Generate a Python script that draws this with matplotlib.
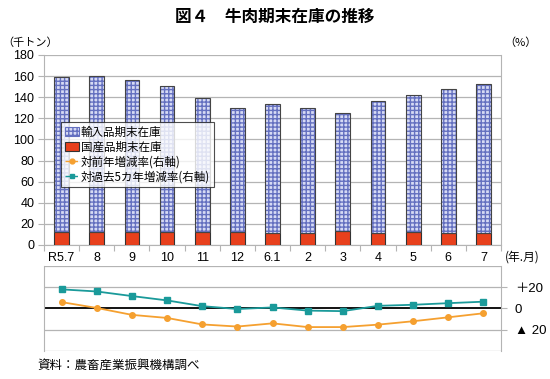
import matplotlib
matplotlib.use('Agg')
import matplotlib.pyplot as plt
import numpy as np
from matplotlib.patches import Patch
from matplotlib.lines import Line2D

plt.rcParams['font.family'] = ['Liberation Sans', 'Noto Sans CJK JP', 'DejaVu Sans']

# data
months = ['R5.7', '8', '9', '10', '11', '12', '6.1', '2', '3', '4', '5', '6', '7']
total_stock = [159, 160, 156, 151, 139, 130, 134, 129.5, 124.7, 136.4, 141.8, 147.8, 152.8]
domestic = [12.3, 12, 12.6, 12.6, 12.3, 12.3, 11.4, 11.4, 13, 11.7, 12, 11.7, 11]
imported = [t - d for t, d in zip(total_stock, domestic)]
yoy = [6, 0.5, -6, -8.9, -15, -17, -14, -17.5, -17.5, -15.2, -12, -8.3, -4.5]
vs5y = [18, 16, 11.7, 7.6, 2.2, -0.5, 1, -2, -2.5, 2.5, 3.5, 5, 6.4]

x = np.arange(len(months))
grid_c = '#b4b4b4'
jp = ['Noto Sans CJK JP', 'DejaVu Sans']

fig = plt.figure(figsize=(5.5, 3.79), dpi=100)
ax = fig.add_axes([0.08, 0.3536, 0.831, 0.5013])
ax2 = fig.add_axes([0.08, 0.0739, 0.831, 0.2243])

# top: stacked bars
w = 0.42
ax.bar(x, domestic, w, color='#e8401c', edgecolor='#333333', linewidth=0.8, zorder=3)
ax.bar(x, imported, w, bottom=domestic, color='#d6daf4', edgecolor='#6470c0', hatch='++++',
       linewidth=0, zorder=3)
ax.bar(x, imported, w, bottom=domestic, color='none', edgecolor='#444444', linewidth=0.8, zorder=4)

ax.set_xlim(-0.5, len(months) - 0.5)
ax.set_ylim(0, 180)
ax.set_yticks(range(0, 181, 20))
ax.yaxis.grid(True, color=grid_c, linewidth=0.9, zorder=0)
ax.set_axisbelow(True)
ax.spines['top'].set_visible(False)
for s in ['left', 'right', 'bottom']:
    ax.spines[s].set_color(grid_c)
ax.tick_params(axis='y', length=4, color=grid_c, labelsize=9, pad=3)
ax.set_xticks(np.arange(len(months) + 1) - 0.5)
ax.set_xticklabels([])
ax.set_xticks(x, minor=True)
ax.set_xticklabels(months, minor=True, fontsize=9)
ax.tick_params(axis='x', which='major', length=4, color=grid_c)
ax.tick_params(axis='x', which='minor', length=0, pad=5)

# legend built from proxy handles
handles = [
    Patch(facecolor='#d6daf4', edgecolor='#6470c0', hatch='++++', linewidth=0.8),
    Patch(facecolor='#e8401c', edgecolor='#333333', linewidth=0.8),
    Line2D([], [], color='#f5a030', marker='o', markersize=3.5, linestyle='--', linewidth=1),
    Line2D([], [], color='#1a9a9a', marker='s', markersize=3.5, linestyle='--', linewidth=1),
]
labels = ['輸入品期末在庫', '国産品期末在庫', '対前年増減率(右軸)', '対過去5カ年増減率(右軸)']
leg = ax.legend(handles, labels, loc='upper left', bbox_to_anchor=(0.038, 0.645),
                prop={'family': jp, 'size': 8.3}, frameon=True, fancybox=False,
                edgecolor='#222222', handlelength=1.2, handleheight=0.8, handletextpad=0.2,
                labelspacing=0.15, borderpad=0.3, borderaxespad=0)
leg.get_frame().set_linewidth(0.8)
leg.set_zorder(5)

# bottom: rates
ax2.plot(x, vs5y, color='#1a9a9a', marker='s', markersize=4, linewidth=1.3, zorder=3)
ax2.plot(x, yoy, color='#f5a030', marker='o', markersize=4, linewidth=1.3, zorder=3)
ax2.axhline(0, color='black', linewidth=1.3, zorder=2)
ax2.set_xlim(-0.5, len(months) - 0.5)
ax2.set_ylim(-40, 40)
for yv in [-40, -20, 20, 40]:
    ax2.axhline(yv, color=grid_c, linewidth=0.9, zorder=0)
for s in ['top', 'bottom']:
    ax2.spines[s].set_visible(False)
for s in ['left', 'right']:
    ax2.spines[s].set_color(grid_c)
ax2.set_xticks([])
ax2.yaxis.tick_right()
ax2.set_yticks([20, 0, -20])
ax2.set_yticklabels(['＋20', '0', '▲ 20'], fontsize=9.5)
ax2.tick_params(axis='y', length=4, color=grid_c, pad=6)

# texts
fig.text(0.5, 0.955, '図４　牛肉期末在庫の推移', ha='center', va='center', fontsize=12,
         fontweight='bold', family=jp)
fig.text(0.005, 0.888, '（千トン）', ha='left', va='center', fontsize=8, family=jp)
fig.text(0.975, 0.888, '（%）', ha='right', va='center', fontsize=8, family=jp)
fig.text(0.918, 0.322, '(年.月)', ha='left', va='center', fontsize=8.5, family=jp)
fig.text(0.068, 0.035, '資料：農畜産業振興機構調べ', ha='left', va='center', fontsize=9, family=jp)

fig.savefig('out.png', dpi=100)
